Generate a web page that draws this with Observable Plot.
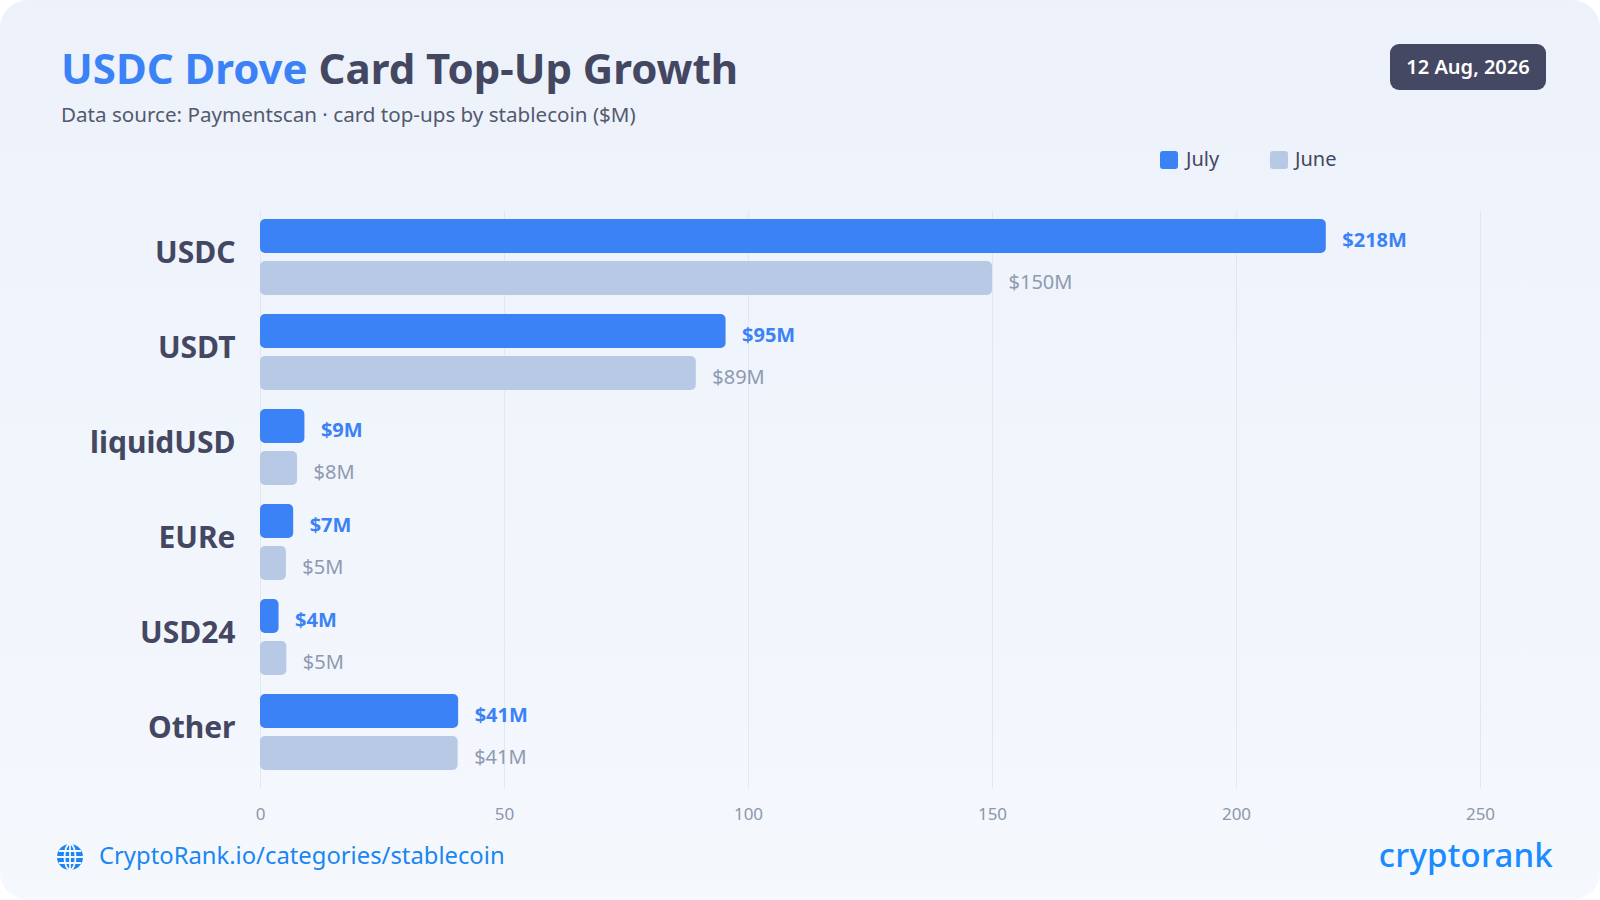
<!DOCTYPE html>
<html>
<head>
<meta charset="utf-8">
<script src="https://cdn.jsdelivr.net/npm/d3@7"></script>
<script src="https://cdn.jsdelivr.net/npm/@observablehq/plot@0.6"></script>
<style>
  html, body { margin: 0; padding: 0; background: #ffffff; }
  body { width: 1600px; height: 900px; overflow: hidden; font-family: "Noto Sans", "Open Sans", sans-serif; }
  #card {
    position: absolute; left: 0; top: 0; width: 1600px; height: 900px;
    border-radius: 28px; overflow: hidden;
    background: linear-gradient(180deg, #edf1fa 0%, #f1f5fc 55%, #f5f8fd 100%);
  }
  #chart { position: absolute; left: 0; top: 0; }
  .abs { position: absolute; white-space: nowrap; }
  #title { left: 61px; top: 40px; font-size: 42px; font-weight: 700; color: #444761; line-height: 56px; }
  #title .hl { color: #3b82f6; }
  #subtitle { left: 61px; top: 99px; font-size: 20.6px; color: #535a6f; line-height: 30px; }
  #date { left: 1390px; top: 44px; width: 156px; height: 46px; border-radius: 9px; background: #454862;
          color: #ffffff; font-size: 20px; font-weight: 600; line-height: 46px; text-align: center; }
  .legsw { width: 18px; height: 18px; border-radius: 3px; top: 151px; }
  .legtx { top: 145px; font-size: 20px; color: #444761; line-height: 28px; }
  #footer { left: 99px; top: 838px; font-size: 23.8px; color: #1a86f2; line-height: 34px; }
  #globe { left: 56px; top: 843px; }
  #logo { right: 47px; top: 833px; font-size: 33px; font-weight: 500; color: #1a8cff; line-height: 44px; letter-spacing: 0.2px; }
</style>
</head>
<body>
<div id="card">
  <div id="chart"></div>
  <div id="title" class="abs"><span class="hl">USDC Drove</span> Card Top-Up Growth</div>
  <div id="subtitle" class="abs">Data source: Paymentscan · card top-ups by stablecoin ($M)</div>
  <div id="date" class="abs">12 Aug, 2026</div>
  <div id="legend"></div>
  <svg id="globe" class="abs" width="28" height="28" viewBox="0 0 28 28">
    <circle cx="14" cy="14" r="13" fill="#1a86f2"/>
    <g fill="none" stroke="#f3f6fc" stroke-width="1.8">
      <ellipse cx="14" cy="14" rx="5.5" ry="13"/>
      <line x1="14" y1="1" x2="14" y2="27"/>
      <line x1="1" y1="14" x2="27" y2="14"/>
      <line x1="3" y1="8" x2="25" y2="8"/>
      <line x1="3" y1="20" x2="25" y2="20"/>
    </g>
  </svg>
  <div id="footer" class="abs">CryptoRank.io/categories/stablecoin</div>
  <div id="logo" class="abs">cryptorank</div>
</div>
<script>
// ---- data ----
const categories = ["USDC", "USDT", "liquidUSD", "EURe", "USD24", "Other"];
const july = [218.4, 95.4, 9.1, 6.8, 3.8, 40.6];
const june = [150, 89.3, 7.6, 5.3, 5.4, 40.5];
const seriesNames = ["July", "June"];
const seriesColors = ["#3b82f6", "#b8c9e6"];
const xTicks = [0, 50, 100, 150, 200, 250];

const rows = categories.map((c, i) => ({category: c, july: july[i], june: june[i]}));
const fmt = v => `$${Math.round(v)}M`;

// legend
const legend = document.getElementById("legend");
const legX = [[1160, 1186], [1270, 1295]];
seriesNames.forEach((s, i) => {
  const sw = document.createElement("div");
  sw.className = "abs legsw";
  sw.style.left = legX[i][0] + "px";
  sw.style.background = seriesColors[i];
  legend.appendChild(sw);
  const tx = document.createElement("div");
  tx.className = "abs legtx";
  tx.style.left = legX[i][1] + "px";
  tx.textContent = s;
  legend.appendChild(tx);
});

const chart = Plot.plot({
  width: 1600,
  height: 900,
  marginTop: 211,
  marginBottom: 112,
  marginLeft: 260,
  marginRight: 120,
  style: {background: "transparent", fontFamily: "Noto Sans, Open Sans, sans-serif"},
  x: {domain: [0, 250], ticks: xTicks},
  y: {domain: categories, paddingInner: 0.2, paddingOuter: 0.137, align: 0.31, round: false},
  marks: [
    Plot.ruleX(xTicks, {stroke: "#e2e7f0", strokeWidth: 1}),
    Plot.barX(rows, {x: "july", y: "category", fill: seriesColors[0], insetBottom: 42, rx: 5}),
    Plot.barX(rows, {x: "june", y: "category", fill: seriesColors[1], insetTop: 42, rx: 5}),
    Plot.text(rows, {x: "july", y: "category", text: d => fmt(d.july), dx: 16, dy: -17, textAnchor: "start",
      fill: "#3b82f6", fontWeight: 700, fontSize: 20}),
    Plot.text(rows, {x: "june", y: "category", text: d => fmt(d.june), dx: 16, dy: 25, textAnchor: "start",
      fill: "#8e9ab1", fontSize: 20}),
    Plot.axisX({ticks: xTicks, tickSize: 0, tickPadding: 19, fontSize: 17, color: "#8b97ab", label: null}),
    Plot.axisY({tickSize: 0, tickPadding: 25, fontSize: 30, fontWeight: 700, color: "#444761", dy: -4, label: null})
  ]
});
document.getElementById("chart").appendChild(chart);
</script>
</body>
</html>
